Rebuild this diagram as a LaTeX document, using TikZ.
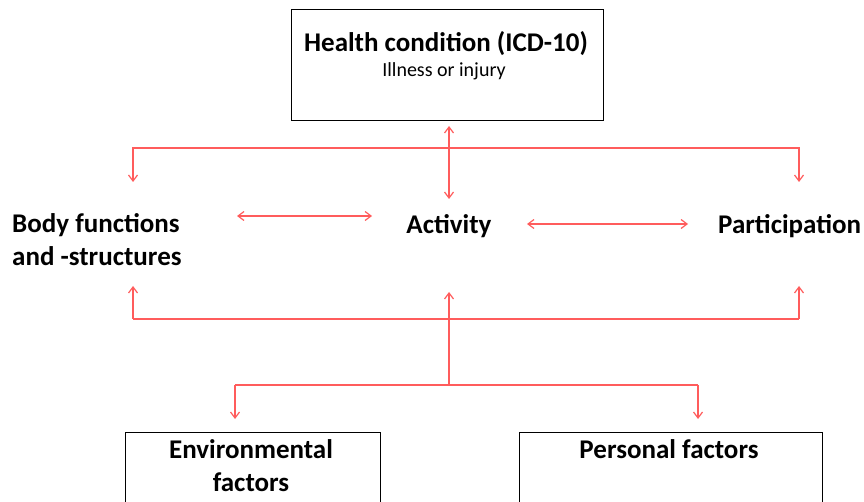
\documentclass[tikz,border=0pt]{standalone}
\usepackage{fontspec}
\setmainfont{Carlito}
\usetikzlibrary{arrows.meta}
\definecolor{lred}{HTML}{FF5C5C}
\tikzset{
  conn/.style={draw=lred, line width=1.6pt, arrows={-Straight Barb[length=6pt,width=9pt,line width=1.2pt]}},
  dconn/.style={draw=lred, line width=1.6pt, arrows={Straight Barb[length=6pt,width=9pt,line width=1.2pt]-Straight Barb[length=6pt,width=9pt,line width=1.2pt]}},
  line/.style={draw=lred, line width=1.6pt},
  lbl/.style={font=\fontsize{27}{33}\selectfont\bfseries, align=center, inner sep=0pt},
  boxx/.style={draw=black, line width=1pt}
}
\begin{document}
\begin{tikzpicture}[x=1pt,y=-1pt]
\useasboundingbox (0,0) rectangle (864,502);
\clip (0,0) rectangle (864,502);
% boxes
\draw[boxx] (291,10) rectangle (603,121);
\draw[boxx] (125,432) rectangle (380,520);
\draw[boxx] (519,432) rectangle (822,520);
\node[lbl, anchor=base] (title) at (446,52) {Health condition (ICD-10)};
\node[font=\fontsize{20}{24}\selectfont, anchor=base, inner sep=0pt] (sub) at (444,77) {Illness or injury};
\node[lbl, anchor=base] (env) at (251,491) {Environmental\\factors};
\node[lbl, anchor=base] (pers) at (669,458) {Personal factors};
% middle labels
\node[lbl, anchor=base west, align=left] (body) at (12,266) {Body functions\\and -structures};
\node[lbl, anchor=base] (act) at (449,234) {Activity};
\node[lbl, anchor=base west] (part) at (718,234) {Participation};
% coordinates
\coordinate (tl) at (133,148);
\coordinate (tm) at (449,148);
\coordinate (tr) at (799,148);
\coordinate (tla) at (133,182);
\coordinate (tra) at (799,182);
\coordinate (ct) at (449,126);
\coordinate (cb) at (449,199);
\coordinate (bl) at (133,319);
\coordinate (br) at (799,319);
\coordinate (bla) at (133,286);
\coordinate (bra) at (799,286);
\coordinate (bm) at (449,385);
\coordinate (bma) at (449,292);
\coordinate (el) at (235,385);
\coordinate (er) at (698,385);
\coordinate (ela) at (235,419);
\coordinate (era) at (698,419);
\coordinate (a1) at (237,216);
\coordinate (a2) at (372,216);
\coordinate (a3) at (527,224);
\coordinate (a4) at (688,224);
% connectors
\draw[conn] (tm) -- (tl) -- (tla);
\draw[conn] (tm) -- (tr) -- (tra);
\draw[dconn] (ct) -- (cb);
\draw[dconn] (a1) -- (a2);
\draw[dconn] (a3) -- (a4);
\draw[line] (bl) -- (br);
\draw[conn] (bl) -- (bla);
\draw[conn] (br) -- (bra);
\draw[conn] (bm) -- (bma);
\draw[line] (el) -- (er);
\draw[conn] (el) -- (ela);
\draw[conn] (er) -- (era);
\end{tikzpicture}
\end{document}
